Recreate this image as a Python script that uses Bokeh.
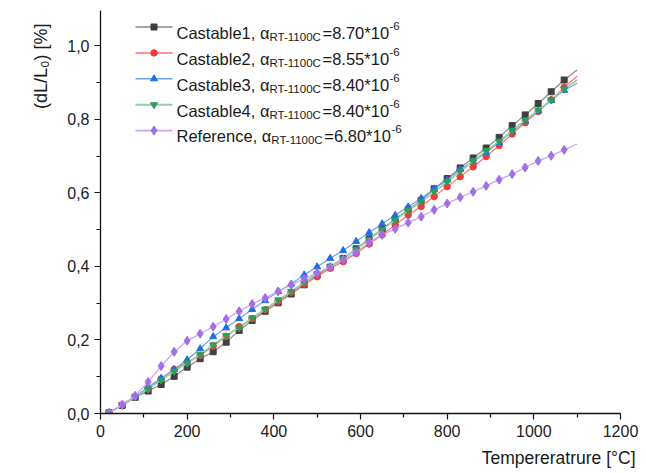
from bokeh.plotting import figure
from bokeh.models import Range1d, FixedTicker, CustomJSTickFormatter, Label, Title
from bokeh.embed import file_html
from bokeh.resources import INLINE

# ---------------- data ----------------
temperature = [20, 50, 80, 110, 140, 170, 200, 230, 260, 290, 320, 350, 380, 410,
               440, 470, 500, 530, 560, 590, 620, 650, 680, 710, 740, 770, 800, 830,
               860, 890, 920, 950, 980, 1010, 1040, 1070, 1100]
castable1 = [0.002, 0.022, 0.044, 0.061, 0.079, 0.101, 0.126, 0.149, 0.168, 0.194,
             0.226, 0.253, 0.278, 0.301, 0.325, 0.350, 0.377, 0.398, 0.422, 0.448,
             0.475, 0.502, 0.528, 0.554, 0.579, 0.611, 0.639, 0.668, 0.695, 0.722,
             0.751, 0.783, 0.812, 0.843, 0.875, 0.907, 0.934]
castable2 = [0.002, 0.023, 0.046, 0.068, 0.094, 0.120, 0.139, 0.158, 0.183, 0.210,
             0.236, 0.258, 0.282, 0.305, 0.330, 0.352, 0.372, 0.395, 0.413, 0.435,
             0.461, 0.486, 0.513, 0.540, 0.563, 0.590, 0.617, 0.644, 0.671, 0.699,
             0.729, 0.760, 0.791, 0.821, 0.853, 0.887, 0.918]
castable3 = [0.002, 0.022, 0.045, 0.072, 0.096, 0.120, 0.146, 0.176, 0.209, 0.233,
             0.258, 0.283, 0.307, 0.332, 0.352, 0.377, 0.399, 0.422, 0.443, 0.468,
             0.492, 0.516, 0.539, 0.562, 0.585, 0.611, 0.635, 0.664, 0.685, 0.710,
             0.737, 0.767, 0.795, 0.823, 0.851, 0.879, 0.898]
castable4 = [0.002, 0.022, 0.045, 0.067, 0.091, 0.115, 0.137, 0.160, 0.187, 0.212,
             0.233, 0.260, 0.284, 0.309, 0.332, 0.357, 0.380, 0.399, 0.422, 0.447,
             0.473, 0.500, 0.526, 0.552, 0.576, 0.603, 0.630, 0.658, 0.687, 0.715,
             0.740, 0.769, 0.798, 0.825, 0.853, 0.882, 0.907]
reference = [0.002, 0.024, 0.048, 0.086, 0.129, 0.168, 0.198, 0.217, 0.236, 0.257,
             0.278, 0.298, 0.314, 0.332, 0.350, 0.366, 0.382, 0.398, 0.418, 0.438,
             0.466, 0.486, 0.502, 0.519, 0.535, 0.554, 0.571, 0.588, 0.603, 0.619,
             0.636, 0.651, 0.669, 0.687, 0.701, 0.717, 0.733]

series_names = ["Castable1", "Castable2", "Castable3", "Castable4", "Reference"]
alpha_values = ["8.70", "8.55", "8.40", "8.40", "6.80"]
x_ticks = [0, 200, 400, 600, 800, 1000, 1200]
x_minor = [100, 300, 500, 700, 900, 1100]
y_ticks = [0.0, 0.2, 0.4, 0.6, 0.8, 1.0]
y_minor = [0.1, 0.3, 0.5, 0.7, 0.9]
x_label = "Tempereratrure [°C]"
y_label = "(dL/L₀) [%]"

# ---------------- style ----------------
FONT = "Liberation Sans"
MARKERS = ["square", "circle", "triangle", "inverted_triangle", "diamond"]
MSIZE = [6, 6.5, 7, 7, 9]
MCOL = ["#404040", "#f03a3a", "#1f6fe0", "#2e9e5a", "#a46ee8"]
LCOL = ["#8a8a8a", "#ff7070", "#6a9ff0", "#8ed3a8", "#c9a4f2"]
LW = [1.2, 1.2, 1.2, 1.6, 1.3]

LEFT, RIGHT, TOP, BOTTOM = 100, 26, 10, 60
FW, FH = 520, 403
X_END, Y_END = 1200, 1.096

p = figure(frame_width=FW, frame_height=FH, output_backend="svg", toolbar_location=None,
           x_range=Range1d(0, X_END), y_range=Range1d(0, Y_END),
           min_border_left=LEFT, min_border_right=RIGHT, min_border_top=TOP,
           min_border_bottom=BOTTOM)
p.outline_line_color = None
p.xgrid.visible = False
p.ygrid.visible = False
p.background_fill_color = "white"

for ax in (p.xaxis[0], p.yaxis[0]):
    ax.axis_line_color = "#111111"
    ax.axis_line_width = 1.3
    ax.major_tick_line_color = "#111111"
    ax.minor_tick_line_color = "#111111"
    ax.major_tick_line_width = 1.2
    ax.minor_tick_line_width = 1.2
    ax.major_tick_out = 6
    ax.major_tick_in = 0
    ax.minor_tick_out = 4
    ax.minor_tick_in = 0
    ax.major_label_text_font = FONT
    ax.major_label_text_font_size = "16px"
    ax.major_label_text_color = "#222222"

p.xaxis[0].ticker = FixedTicker(ticks=x_ticks, minor_ticks=x_minor)
p.yaxis[0].ticker = FixedTicker(ticks=y_ticks, minor_ticks=y_minor)
p.yaxis[0].formatter = CustomJSTickFormatter(code="return tick.toFixed(1).replace('.', ',');")
p.xaxis[0].formatter = CustomJSTickFormatter(code="return tick.toFixed(0);")
p.xaxis[0].major_label_standoff = 5
p.yaxis[0].major_label_standoff = 5

all_series = [castable1, castable2, castable3, castable4, reference]
for i, ys in enumerate(all_series):
    p.line(temperature, ys, line_color=LCOL[i], line_width=LW[i])
    p.scatter(temperature[:-1], ys[:-1], marker=MARKERS[i], size=MSIZE[i],
              fill_color=MCOL[i], line_color=MCOL[i])

# --------------- text helpers ---------------
WID = {' ': 278, ',': 278, '.': 278, '*': 389, '-': 333, '=': 584, 'C': 722, 'R': 722,
       'T': 611, 'a': 556, 's': 500, 't': 278, 'b': 556, 'l': 222, 'e': 556, 'f': 278,
       'r': 333, 'n': 556, 'c': 500, 'α': 578}


def tw(s, size):
    return sum(WID.get(ch, 556) for ch in s) * size / 1000.0


def lab(x, y, text, size):
    p.add_layout(Label(x=x, y=y, x_units="screen", y_units="screen", text=text,
                       text_font=FONT, text_font_size=f"{size}px", text_color="#1a1a1a",
                       text_align="left", text_baseline="alphabetic"))


# --------------- legend ---------------
MAIN, SMALL = 16.5, 11.5
ROW0, ROWSTEP = 16.5, 25.9
SW0, SW1, TX = 35.0, 72.0, 76.0


def dx(sx):
    return sx / FW * X_END


def dy(sy):
    return (FH - sy) / FH * Y_END


for i, name in enumerate(series_names):
    sy = ROW0 + ROWSTEP * i
    p.line([dx(SW0), dx(SW1)], [dy(sy), dy(sy)], line_color=LCOL[i], line_width=LW[i] + 0.3)
    p.scatter([dx((SW0 + SW1) / 2)], [dy(sy)], marker=MARKERS[i], size=MSIZE[i],
              fill_color=MCOL[i], line_color=MCOL[i])
    base = FH - (sy + 5.8)
    x = TX
    t1 = f"{name}, α"
    lab(x, base, t1, MAIN)
    x += tw(t1, MAIN)
    t2 = "RT-1100C"
    lab(x, base - 4, t2, SMALL)
    x += tw(t2, SMALL)
    t3 = f"={alpha_values[i]}*10"
    lab(x, base, t3, MAIN)
    x += tw(t3, MAIN)
    lab(x + 0.5, base + 7, "-6", SMALL)

# --------------- axis titles (side panels) ---------------
p.add_layout(Title(text=x_label, align="right", offset=-15, standoff=12,
                   text_font=FONT, text_font_size="17.5px", text_font_style="normal",
                   text_color="#1a1a1a"), "below")
p.add_layout(Title(text=y_label, align="right", offset=13, standoff=27,
                   text_font=FONT, text_font_size="18px", text_font_style="normal",
                   text_color="#1a1a1a"), "left")

open("out.html", "w").write(file_html(p, INLINE))
